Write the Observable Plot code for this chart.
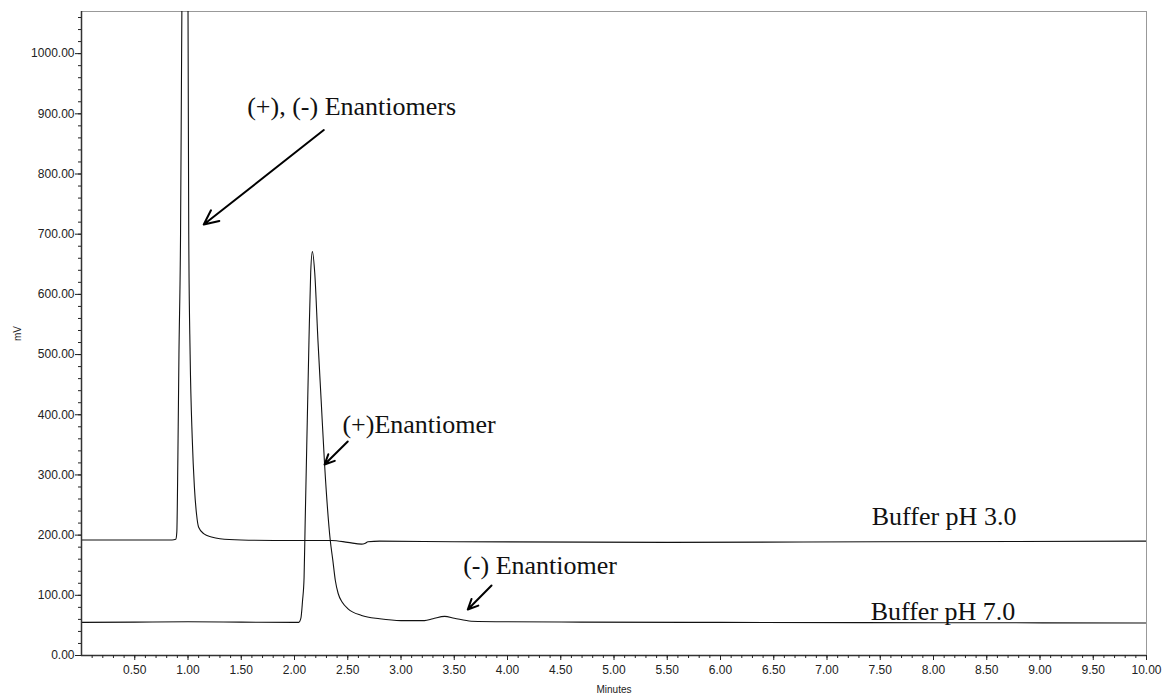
<!DOCTYPE html>
<html>
<head>
<meta charset="utf-8">
<script src="https://cdn.jsdelivr.net/npm/d3@7"></script>
<script src="https://cdn.jsdelivr.net/npm/@observablehq/plot@0.6"></script>
<style>
  body { margin: 0; background: #fff; }
</style>
</head>
<body>
<div id="chart"></div>
<script>
// Buffer pH 3.0 trace (minutes, mV)
const ph3Time = [0, 0.5, 0.85, 0.885, 0.895, 0.905, 0.915, 0.93, 0.94, 0.955, 0.97, 0.985, 1.0, 1.007, 1.02, 1.04, 1.06, 1.08, 1.1, 1.15, 1.22, 1.3, 1.5, 2.0, 2.35, 2.5, 2.63, 2.66, 2.69, 2.8, 3.5, 5.5, 7.5, 10]
const ph3Signal = [192, 192, 192, 193, 205, 330, 500, 700, 1000, 1400, 1600, 1400, 1080, 700, 500, 360, 280, 235, 213, 202, 197, 194, 192, 191, 191, 188, 185, 186, 189, 190, 189, 188, 189, 190]

// Buffer pH 7.0 trace (minutes, mV)
const ph7Time = [0, 0.5, 1.0, 1.5, 2.0, 2.04, 2.06, 2.075, 2.09, 2.1, 2.12, 2.136, 2.152, 2.168, 2.19, 2.22, 2.25, 2.283, 2.336, 2.36, 2.383, 2.41, 2.45, 2.5, 2.63, 2.8, 3.0, 3.22, 3.3, 3.41, 3.5, 3.66, 4.0, 4.69, 6, 8, 10]
const ph7Signal = [55, 55.5, 56, 55.5, 55, 55, 62, 90, 130, 220, 390, 524, 636, 671, 636, 524, 425, 316, 191, 158, 125, 103, 88, 78, 66.5, 61, 58, 58, 61, 65, 62, 57, 56, 55.5, 55, 54.5, 54]

// annotations
const noteText = ["(+), (-) Enantiomers", "(+)Enantiomer", "Buffer pH 3.0", "(-) Enantiomer", "Buffer pH 7.0"]
const noteTime = [1.556, 2.45, 7.42, 3.584, 7.41]
const noteSignal = [912, 383, 230, 150, 72]

const arrowFromTime = [2.275, 2.50, 3.85]
const arrowFromSignal = [873, 355.5, 116.3]
const arrowToTime = [1.148, 2.282, 3.627]
const arrowToSignal = [716, 317.3, 76.4]

// axis ticks
const xMajor = d3.range(1, 21).map(d => d / 2)
const xMinor = d3.range(1, 100).map(d => d / 10)
const yMajor = d3.range(0, 1001, 100)
const yMinor = d3.range(0, 1061, 20)

const ph3 = ph3Time.map((t, i) => ({ t: t, v: ph3Signal[i] }))
const ph7 = ph7Time.map((t, i) => ({ t: t, v: ph7Signal[i] }))
const notes = noteText.map((s, i) => ({ s: s, t: noteTime[i], v: noteSignal[i] }))
const arrows = arrowFromTime.map((t, i) => ({
    x1: t, y1: arrowFromSignal[i], x2: arrowToTime[i], y2: arrowToSignal[i]
}))

let chart = Plot.plot({
    width: 1164,
    height: 695,
    marginLeft: 81,
    marginRight: 18,
    marginTop: 11,
    marginBottom: 40,
    x: { domain: [0, 10] },
    y: { domain: [0, 1070] },
    style: {
        fontFamily: "'Liberation Sans', Arial, sans-serif",
        fontSize: 12,
        color: "#222",
        background: "#fff"
    },
    marks: [
        Plot.frame({ stroke: "#999" }),

        Plot.line(ph3, { x: 't', y: 'v', stroke: "#111", strokeWidth: 1.1, curve: "monotone-x", clip: true }),
        Plot.line(ph7, { x: 't', y: 'v', stroke: "#111", strokeWidth: 1.1, curve: "monotone-x", clip: true }),

        Plot.arrow(arrows, {
            x1: 'x1', y1: 'y1', x2: 'x2', y2: 'y2',
            stroke: "#000", strokeWidth: 2, headLength: 12, headAngle: 50
        }),

        Plot.text(notes, {
            x: 't', y: 'v', text: 's',
            textAnchor: "start", lineAnchor: "middle",
            fontFamily: "'Liberation Serif', 'Times New Roman', serif",
            fontSize: 26, fill: "#111"
        }),

        Plot.ruleX([0], { stroke: "#333", strokeWidth: 1.5 }),
        Plot.ruleY([0], { stroke: "#333", strokeWidth: 1.5 }),

        Plot.axisX({ ticks: xMinor, tickSize: 3, tickFormat: () => "", label: "Minutes", labelAnchor: "center", labelOffset: 37, labelArrow: "none", fontSize: 10 }),
        Plot.axisX({ ticks: xMajor, tickSize: 5, tickPadding: 5, tickFormat: d => d.toFixed(2), label: null }),
        Plot.axisY({ ticks: yMinor, tickSize: 3, tickFormat: () => "", label: "mV", labelAnchor: "center", labelOffset: 68, labelArrow: "none", fontSize: 10 }),
        Plot.axisY({ ticks: yMajor, tickSize: 6, tickPadding: 1, tickFormat: d => d.toFixed(2), label: null }),
    ]
})

d3.select('#chart').append(() => chart)
</script>
</body>
</html>
